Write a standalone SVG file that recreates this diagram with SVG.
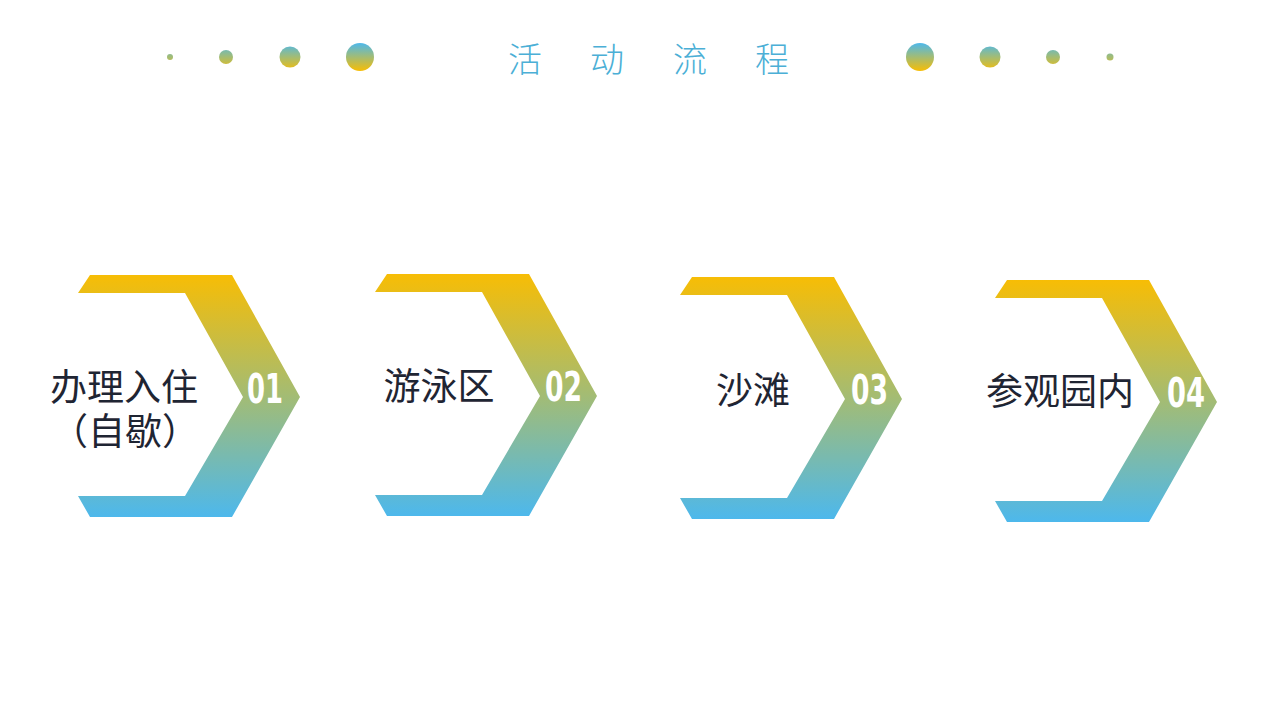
<svg xmlns="http://www.w3.org/2000/svg" width="1280" height="720" viewBox="0 0 1280 720">
  <defs>
    <linearGradient id="chev" x1="0" y1="0" x2="0" y2="1">
      <stop offset="0" stop-color="#F7BD05"/>
      <stop offset="0.5" stop-color="#A3BC74"/>
      <stop offset="1" stop-color="#4DB8EC"/>
    </linearGradient>
    <linearGradient id="dot" gradientUnits="userSpaceOnUse" x1="0" y1="43" x2="0" y2="71">
      <stop offset="0" stop-color="#4DB8EC"/>
      <stop offset="0.5" stop-color="#A3BC74"/>
      <stop offset="1" stop-color="#F7BD05"/>
    </linearGradient>
    <path id="chevShape" d="M12,0 L154,0 L222,122 L154,242 L12,242 L0,221 L107,221 L165,122 L107,18 L0,18 Z"/>
  </defs>
  <style>
    .lbl { font-family: "Liberation Serif", "Noto Sans CJK SC", serif; font-size: 37px; fill: #1F2533; text-anchor: middle; }
    .num { font-family: "Liberation Sans Narrow", "DejaVu Sans Condensed", "Liberation Sans", sans-serif; font-weight: bold; font-size: 40px; fill: #FFFFFF; }
    .title { font-family: "Noto Sans CJK SC", sans-serif; font-weight: 300; font-size: 34px; fill: #4BAFD6; text-anchor: middle; }
    .d { fill: url(#dot); }
  </style>
  <rect width="1280" height="720" fill="#FFFFFF"/>

  <g id="header">
    <circle class="d" cx="170" cy="57" r="3"/>
    <circle class="d" cx="226" cy="57" r="7"/>
    <circle class="d" cx="290" cy="57" r="10.5"/>
    <circle class="d" cx="360" cy="57" r="14"/>
    <circle class="d" cx="920" cy="57" r="14"/>
    <circle class="d" cx="990" cy="57" r="10.5"/>
    <circle class="d" cx="1053" cy="57" r="7"/>
    <circle class="d" cx="1110" cy="57" r="3.5"/>
    <text class="title" x="525 607 690 772" y="72">活动流程</text>
  </g>

  <g id="connectors"></g>

  <g id="step1">
    <use href="#chevShape" transform="translate(78,275)" fill="url(#chev)"/>
    <text class="lbl" x="124" y="401">办理入住</text>
    <text class="lbl" x="125" y="445">（自歇）</text>
    <text class="num" x="247" y="403" textLength="36" lengthAdjust="spacingAndGlyphs">01</text>
  </g>

  <g id="step2">
    <use href="#chevShape" transform="translate(375,274)" fill="url(#chev)"/>
    <text class="lbl" x="439" y="400">游泳区</text>
    <text class="num" x="545" y="401" textLength="37" lengthAdjust="spacingAndGlyphs">02</text>
  </g>

  <g id="step3">
    <use href="#chevShape" transform="translate(680,277)" fill="url(#chev)"/>
    <text class="lbl" x="753" y="404">沙滩</text>
    <text class="num" x="851" y="404" textLength="37" lengthAdjust="spacingAndGlyphs">03</text>
  </g>

  <g id="step4">
    <use href="#chevShape" transform="translate(995,280)" fill="url(#chev)"/>
    <text class="lbl" x="1060" y="405">参观园内</text>
    <text class="num" x="1167" y="407" textLength="38" lengthAdjust="spacingAndGlyphs">04</text>
  </g>
</svg>
